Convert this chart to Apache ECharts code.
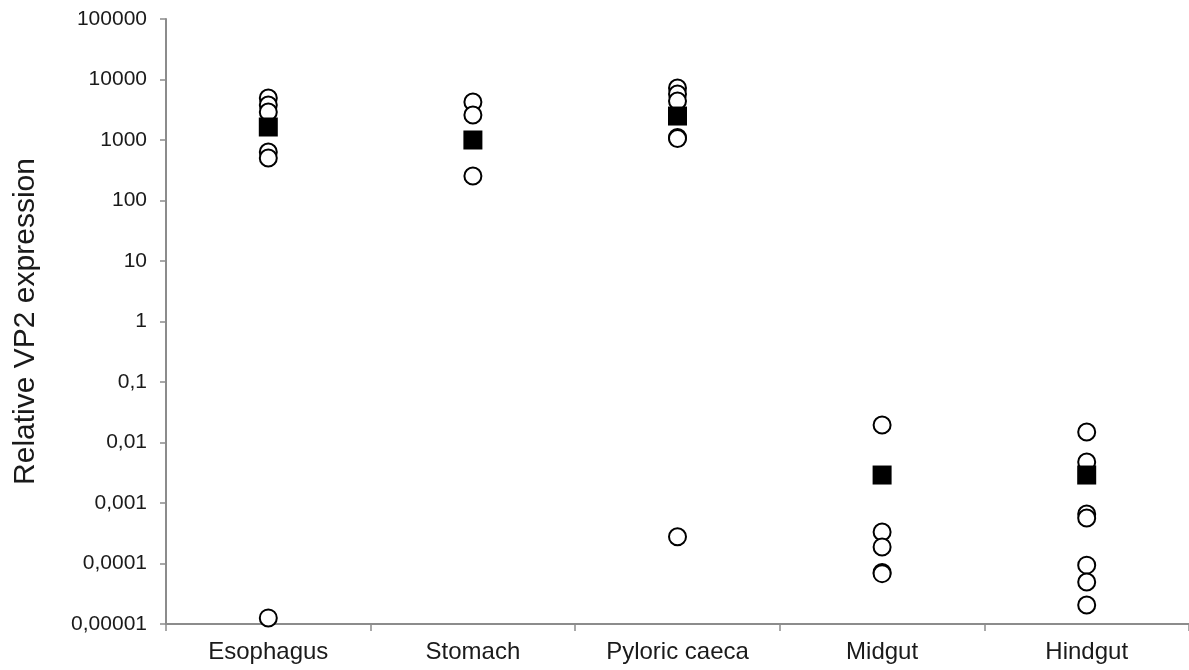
<!DOCTYPE html>
<html lang="en">
<head>
    <meta charset="UTF-8">
    <script src="https://cdn.jsdelivr.net/npm/echarts@6/dist/echarts.min.js"></script>
    <style>
        html, body { margin: 0; padding: 0; background: #fff; }
        #scatter { width: 1189px; height: 670px; }
    </style>
</head>
<body>
<div id="scatter"></div>
<script>
    // tissues on the x axis
    var tissues = ['Esophagus', 'Stomach', 'Pyloric caeca', 'Midgut', 'Hindgut'];

    // individual fish (open circles)
    var esophagusVals = [4950, 3790, 2900, 634, 504, 0.0000126];
    var stomachVals = [4250, 2590, 254];
    var pyloricVals = [7240, 5760, 4410, 1100, 1060, 0.000277];
    var midgutVals = [0.0195, 0.000332, 0.000188, 0.000071, 0.000068];
    var hindgutVals = [0.0149, 0.00477, 0.000658, 0.000565, 0.000094, 0.0000494, 0.0000206];

    // group means (filled squares)
    var meanVals = [1640, 1000, 2490, 0.0029, 0.0029];

    var groups = [esophagusVals, stomachVals, pyloricVals, midgutVals, hindgutVals];

    var pointData = [];
    groups.forEach(function (vals, idx) {
        vals.forEach(function (v) {
            pointData.push([idx, v]);
        });
    });
    var meanData = meanVals.map(function (v, idx) { return [idx, v]; });

    // log labels with comma decimals, e.g. 0,001
    function fmtLog(v) {
        var e = Math.round(Math.log10(v));
        if (e >= 0) return String(Math.pow(10, e));
        return '0,' + '0'.repeat(-e - 1) + '1';
    }

    var axisGray = '#8c8c8c';
    var textColor = '#1a1a1a';
    var font = 'Arial, "Liberation Sans", sans-serif';

    var chart = echarts.init(document.getElementById('scatter'));
    var option = {
        animation: false,
        backgroundColor: '#fff',
        grid: {
            left: 166,
            top: 19,
            width: 1032,
            height: 605
        },
        xAxis: {
            type: 'category',
            data: tissues,
            boundaryGap: true,
            axisLine: { lineStyle: { color: axisGray, width: 2 } },
            axisTick: { show: true, length: 7, alignWithLabel: false, lineStyle: { color: axisGray, width: 1.5 } },
            axisLabel: { color: textColor, fontSize: 24, fontFamily: font, margin: 16 },
            splitLine: { show: false }
        },
        yAxis: {
            type: 'log',
            logBase: 10,
            min: 0.00001,
            max: 100000,
            interval: 1,
            name: 'Relative VP2 expression',
            nameLocation: 'middle',
            nameGap: 125,
            nameTextStyle: { color: textColor, fontSize: 30, fontFamily: font },
            axisLine: { show: true, lineStyle: { color: axisGray, width: 2 } },
            axisTick: { show: true, length: 6, lineStyle: { color: axisGray, width: 1.5 } },
            axisLabel: { color: textColor, fontSize: 21, fontFamily: font, margin: 19, formatter: fmtLog },
            splitLine: { show: false }
        },
        series: [
            {
                name: 'Individual',
                type: 'scatter',
                symbol: 'circle',
                symbolSize: 17,
                itemStyle: { color: '#fff', borderColor: '#000', borderWidth: 2, opacity: 1 },
                data: pointData
            },
            {
                name: 'Mean',
                type: 'scatter',
                symbol: 'rect',
                symbolSize: 19,
                z: 3,
                itemStyle: { color: '#000', opacity: 1 },
                data: meanData
            }
        ]
    };
    chart.setOption(option);
</script>
</body>
</html>
